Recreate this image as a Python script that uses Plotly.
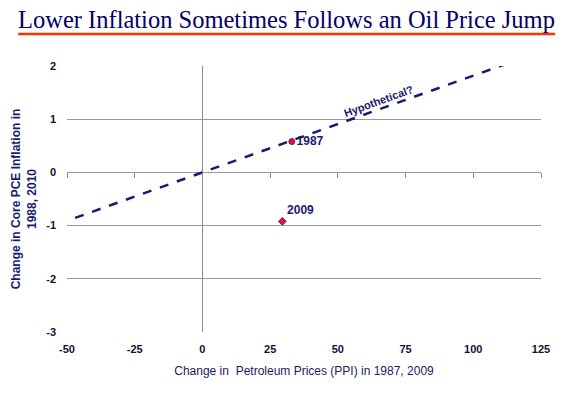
import plotly.graph_objects as go

# Data
years_label = ["1987", "2009"]
oil_change = [33, 29.5]          # Change in petroleum prices (PPI), %
core_pce_change = [0.58, -0.92]  # Change in core PCE inflation, pp
marker_symbols = ["circle", "diamond"]

hyp_x = [-47, 114]
hyp_slope = 1 / 55.0
hyp_y = [v * hyp_slope for v in hyp_x]

x_ticks = [-50, -25, 0, 25, 50, 75, 100, 125]
x_ticktext = ["-50", "-25", "0", "25", "50", "75", "100", "125"]
y_ticks = [-3, -2, -1, 0, 1, 2]
y_ticktext = ["-3", "-2", "-1", "0", "1", "2"]

NAVY = "#1a1a6e"
fig = go.Figure()

fig.add_trace(go.Scatter(
    x=hyp_x, y=hyp_y, mode="lines",
    line=dict(color=NAVY, width=2.5, dash="dash"),
    hoverinfo="skip", showlegend=False))

fig.add_trace(go.Scatter(
    x=oil_change, y=core_pce_change, mode="markers+text",
    text=years_label, textposition=["middle right", "top right"],
    textfont=dict(family="Liberation Sans", size=12, color=NAVY, weight="bold"),
    marker=dict(symbol=marker_symbols, size=6, color="#e8102a",
                line=dict(color="#5a2a8a", width=1)),
    showlegend=False))

# invisible trace for x-axis ticks on the zero line
fig.add_trace(go.Scatter(x=[None], y=[None], xaxis="x2", showlegend=False))

fig.add_annotation(
    x=65, y=65 * hyp_slope, text="<b>Hypothetical?</b>", showarrow=False,
    textangle=-20, yshift=9,
    font=dict(family="Liberation Sans", size=11, color=NAVY))

fig.add_shape(type="line", xref="paper", yref="paper",
              x0=-0.103, x1=1.03, y0=1.12, y1=1.12,
              line=dict(color="#ff3300", width=2.5))

fig.update_layout(
    width=562, height=393,
    margin=dict(l=67, r=21, t=66, b=61),
    paper_bgcolor="white", plot_bgcolor="white",
    title=dict(text="Lower Inflation Sometimes Follows an Oil Price Jump",
               x=18 / 562, xanchor="left", y=1 - 19 / 393, yanchor="middle",
               font=dict(family="Liberation Serif", size=24.5, color="#000066")),
    xaxis=dict(range=[-50, 125], tickvals=x_ticks, ticktext=x_ticktext, showgrid=False,
               zeroline=True, zerolinecolor="#8c8c8c", zerolinewidth=1,
               showline=False, ticks="", automargin=False, ticklabelstandoff=9,
               tickfont=dict(family="Liberation Sans", size=11, color="#111133", weight="bold"),
               title=dict(text="Change in  Petroleum Prices (PPI) in 1987, 2009",
                          font=dict(family="Liberation Sans", size=12, color="#1a1a5a"),
                          standoff=12)),
    xaxis2=dict(range=[-50, 125], tickvals=x_ticks, overlaying="x", anchor="free",
                position=0.6, showticklabels=False, ticks="outside", ticklen=5,
                tickcolor="#8c8c8c", showgrid=False, zeroline=False, showline=False,
                automargin=False),
    yaxis=dict(range=[-3, 2], tickvals=y_ticks, ticktext=y_ticktext, showgrid=True,
               gridcolor="#9a9a9a", gridwidth=1, zeroline=False, showline=False,
               ticks="", ticklabelstandoff=10, automargin=False,
               tickfont=dict(family="Liberation Sans", size=11, color="#111133", weight="bold"),
               title=dict(text="Change in Core PCE Inflation in<br>1988, 2010",
                          font=dict(family="Liberation Sans", size=12, color=NAVY, weight="bold"),
                          standoff=7)),
)

fig.write_html("out.html", config={"displayModeBar": False},
               post_script="document.body.style.margin='0';document.body.style.padding='0';")
